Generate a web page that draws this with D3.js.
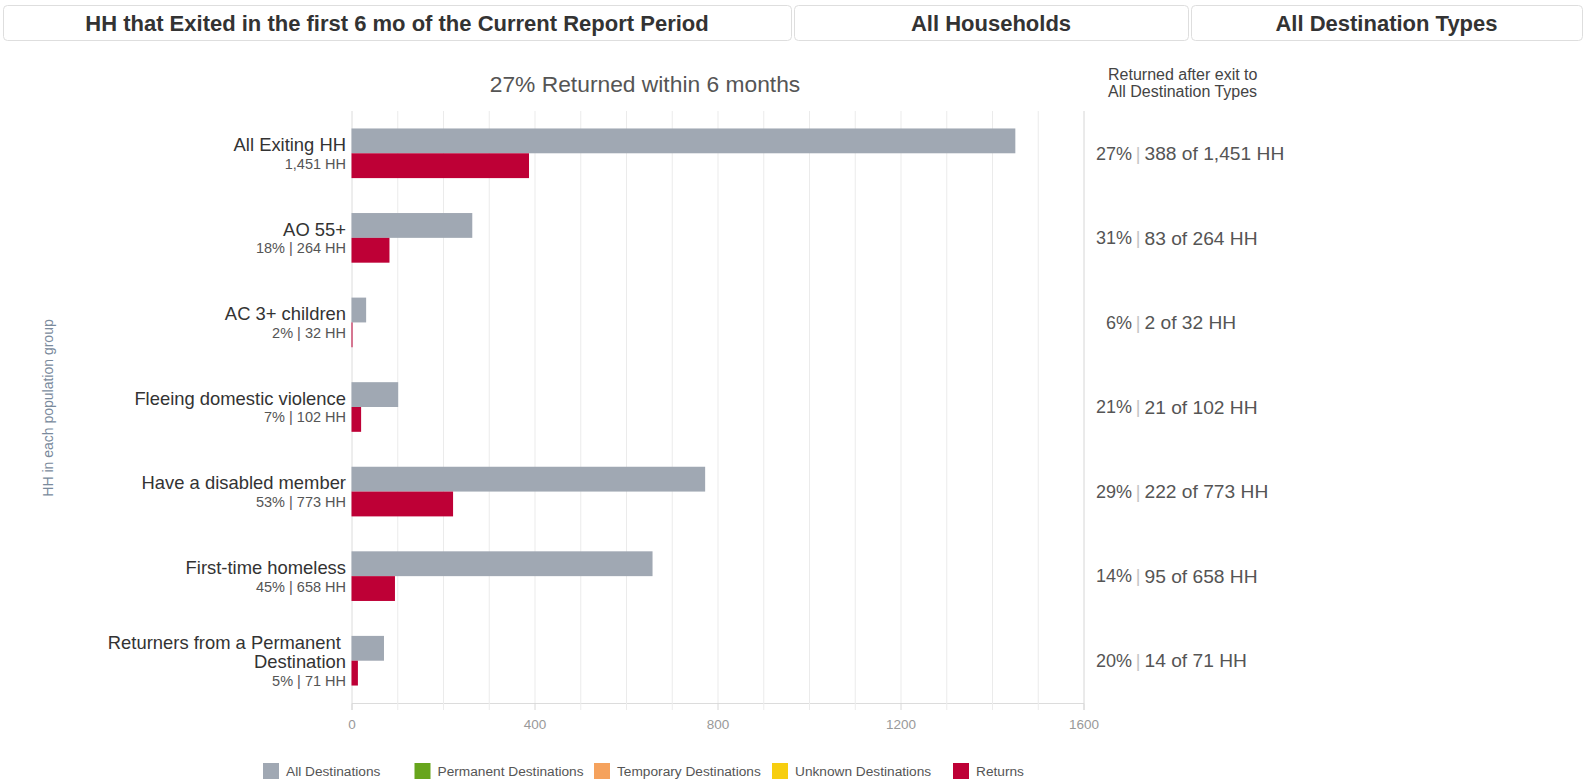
<!DOCTYPE html>
<html><head><meta charset="utf-8">
<script src="https://cdn.jsdelivr.net/npm/d3@7"></script>
<style>
html,body{margin:0;padding:0;background:#fff;}
svg{display:block;font-family:"Liberation Sans",Arial,sans-serif;}
</style></head>
<body><svg id="c" width="1585" height="783"></svg>
<script>
// ---- data ----
const headers = ["HH that Exited in the first 6 mo of the Current Report Period", "All Households", "All Destination Types"];
const chartTitle = "27% Returned within 6 months";
const rightTitle = ["Returned after exit to", "All Destination Types"];
const yAxisTitle = "HH in each population group";
const categories = ["All Exiting HH", "AO 55+", "AC 3+ children", "Fleeing domestic violence", "Have a disabled member", "First-time homeless", "Returners from a Permanent Destination"];
const categoryLines = [["All Exiting HH"], ["AO 55+"], ["AC 3+ children"], ["Fleeing domestic violence"], ["Have a disabled member"], ["First-time homeless"], ["Returners from a Permanent\u00a0", "Destination"]];
const shareOfAll = [null, 18, 2, 7, 53, 45, 5];
const allDestinations = [1451, 264, 32, 102, 773, 658, 71];
const returns = [388, 83, 2, 21, 222, 95, 14];
const returnPct = [27, 31, 6, 21, 29, 14, 20];
const xTicks = [0, 400, 800, 1200, 1600];
const legendItems = ["All Destinations", "Permanent Destinations", "Temporary Destinations", "Unknown Destinations", "Returns"];
const legendColors = ["#a0a8b3", "#67a51c", "#f5a25d", "#f7ce0f", "#be0036"];

const fmt = d3.format(",");
const svg = d3.select("#c");
svg.append("rect").attr("width",1585).attr("height",783).attr("fill","#fff");

// ---- header boxes ----
const boxes = [[3,788],[794,394],[1191,391]];
headers.forEach((h,i)=>{
  const [bx,bw] = boxes[i];
  svg.append("rect").attr("x",bx+0.5).attr("y",5.5).attr("width",bw).attr("height",35)
    .attr("rx",4).attr("fill","#fff").attr("stroke","#dedede");
  svg.append("text").attr("x",bx+bw/2).attr("y",23).attr("dy","0.36em")
    .attr("text-anchor","middle").attr("font-size",22).attr("font-weight","bold")
    .attr("fill","#333").text(h);
});

// ---- scales ----
const x = d3.scaleLinear().domain([0,1600]).range([351.5,1083.5]);
const y = d3.scaleBand().domain(categories).range([111,703]).paddingInner(0.413).paddingOuter(0.2065);
const bh = y.bandwidth()/2;

// gridlines
const grid = svg.append("g").attr("transform","translate(0,703)")
  .call(d3.axisBottom(x).tickValues(d3.range(0,1601,100)).tickSize(-592).tickFormat(""));
grid.select(".domain").remove();
grid.selectAll(".tick line").attr("stroke",d=> d===1600? "#d6d6d6" : (d===0? "#dcdcdc":"#ebebeb"));

// bottom axis
const ax = svg.append("g").attr("transform","translate(0,703)")
  .call(d3.axisBottom(x).tickValues(d3.range(0,1601,100)).tickSize(7).tickPadding(9)
    .tickFormat(d=> xTicks.includes(d)? d : ""));
ax.select(".domain").attr("stroke","#dcdcdc");
ax.selectAll(".tick line").attr("stroke",d=> xTicks.includes(d)? "#d8d8d8":"#ececec");
ax.selectAll(".tick text").attr("fill","#999").attr("font-size",13.5).attr("font-family","Liberation Sans, Arial, sans-serif");

// bars
svg.append("g").selectAll("rect").data(categories).join("rect")
  .attr("x",x(0)).attr("y",d=>y(d)).attr("height",bh)
  .attr("width",(d,i)=>x(allDestinations[i])-x(0)).attr("fill",legendColors[0]);
svg.append("g").selectAll("rect").data(categories).join("rect")
  .attr("x",x(0)).attr("y",d=>y(d)+bh).attr("height",bh)
  .attr("width",(d,i)=>Math.max(1,x(returns[i])-x(0))).attr("fill",legendColors[4]);

// category labels
categories.forEach((c,i)=>{
  const cy = y(c)+y.bandwidth()/2;
  const lines = categoryLines[i];
  const n = lines.length+1;
  const start = cy + 1 - (n-1)*9.7;
  const g = svg.append("g").attr("text-anchor","end");
  lines.forEach((l,j)=>{
    g.append("text").attr("x",346).attr("y",start+j*19.5).attr("dy","0.35em")
      .attr("font-size",18.4).attr("fill","#333").style("white-space","pre").text(l);
  });
  const sub = (shareOfAll[i]==null? "" : shareOfAll[i]+"% | ") + fmt(allDestinations[i]) + " HH";
  g.append("text").attr("x",346).attr("y",start+lines.length*19.5 - 0.5).attr("dy","0.35em")
    .attr("font-size",14.5).attr("fill","#555").text(sub);

  // right values
  svg.append("text").attr("x",1132).attr("y",cy).attr("dy","0.35em").attr("text-anchor","end")
    .attr("font-size",18).attr("fill","#555").text(returnPct[i]+"%");
  svg.append("text").attr("x",1138).attr("y",cy).attr("dy","0.35em").attr("text-anchor","middle")
    .attr("font-size",18).attr("fill","#c4c4c4").text("|");
  svg.append("text").attr("x",1144.5).attr("y",cy).attr("dy","0.35em")
    .attr("font-size",19.2).attr("fill","#555").text(returns[i]+" of "+fmt(allDestinations[i])+" HH");
});

// titles
svg.append("text").attr("x",645).attr("y",84).attr("dy","0.35em").attr("text-anchor","middle")
  .attr("font-size",22.8).attr("fill","#555").text(chartTitle);
rightTitle.forEach((t,i)=>{
  svg.append("text").attr("x",1108).attr("y",74+i*17).attr("dy","0.35em")
    .attr("font-size",16).attr("fill","#444").text(t);
});
svg.append("text").attr("transform","translate(48,408) rotate(-90)").attr("dy","0.35em")
  .attr("text-anchor","middle").attr("font-size",14).attr("fill","#7a8a9c").text(yAxisTitle);

// legend
const legendX = [263, 414.5, 594, 772, 953];
legendItems.forEach((l,i)=>{
  svg.append("rect").attr("x",legendX[i]).attr("y",763).attr("width",16).attr("height",16).attr("fill",legendColors[i]);
  svg.append("text").attr("x",legendX[i]+23).attr("y",771.5).attr("dy","0.35em")
    .attr("font-size",13.7).attr("fill","#555").text(l);
});
</script></body></html>
